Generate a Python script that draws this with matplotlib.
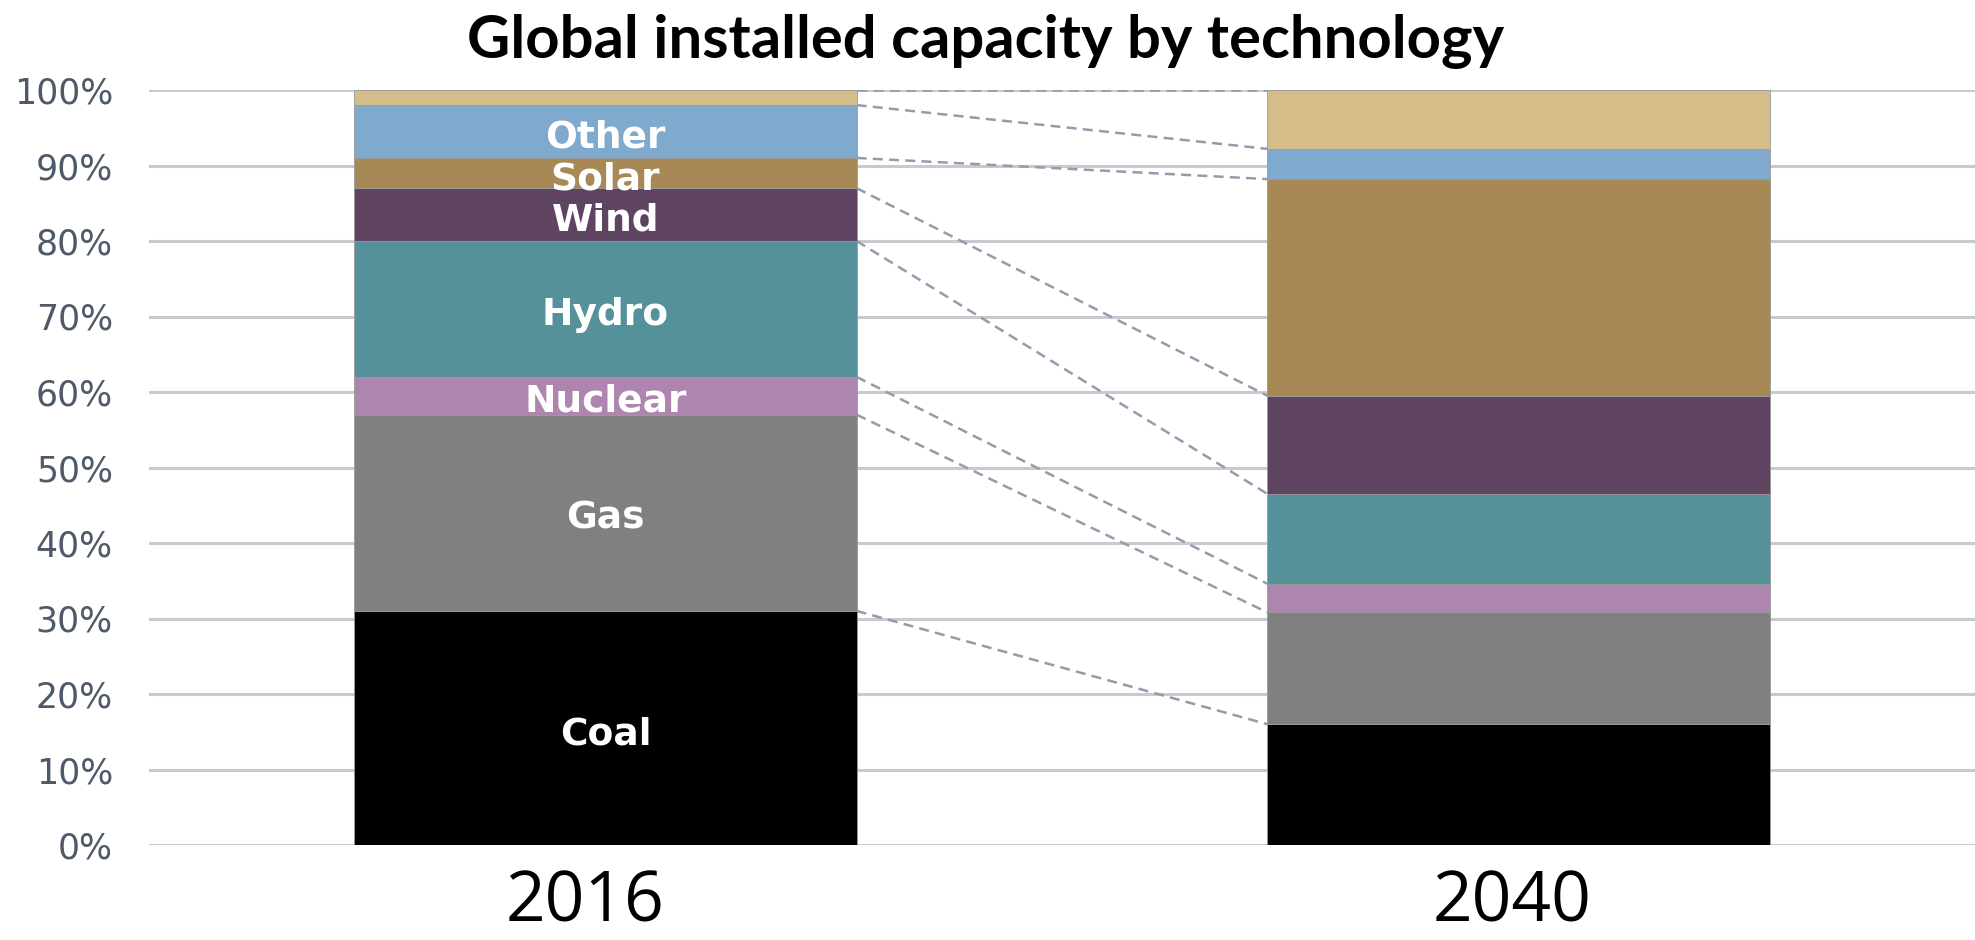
import numpy as np
import matplotlib.pyplot as plt
from matplotlib.ticker import PercentFormatter

# Datos (porcentaje de capacidad instalada)
years = ['2016', '2040']
techs = ['Coal', 'Gas', 'Nuclear', 'Hydro', 'Wind', 'Solar', 'Other', '']
share_2016 = [31.0, 26.0, 5.0, 18.0, 7.0, 4.0, 7.0, 2.0]
share_2040 = [16.0, 14.8, 3.8, 11.9, 13.0, 28.7, 4.0, 7.8]
colores = ['#000000', '#808080', '#ae85ae', '#55919b', '#5f4461',
           '#a88855', '#7fa9cd', '#d5bd89']

fig = plt.figure(figsize=(19.75, 9.4), dpi=100)
ax = fig.add_axes([149/1975, 95/940, 1 - 149/1975, 755/940])

x = np.arange(len(years))
ancho = 0.55
datos = np.array([share_2016, share_2040])

base = np.zeros(len(years))
for i, tech in enumerate(techs):
    ax.bar(x, datos[:, i], ancho, bottom=base, color=colores[i],
           edgecolor='#9a9a9a', linewidth=0.6, zorder=3)
    # etiqueta solo en la barra de 2016
    if tech:
        ax.text(x[0], base[0] + datos[0, i] / 2 - 0.8, tech, ha='center', va='center',
                color='white', fontsize=27, fontweight='bold',
                family='DejaVu Sans', zorder=5)
    base = base + datos[:, i]

# lineas punteadas entre los limites de cada segmento
lim_2016 = np.cumsum(share_2016)
lim_2040 = np.cumsum(share_2040)
for a, b in zip(lim_2016, lim_2040):
    ax.plot([x[0] + ancho/2, x[1] - ancho/2], [a, b], color='#939cad',
            linestyle=(0, (4, 2.5)), linewidth=1.8, zorder=2)

ax.set_xlim(-0.5, 1.5)
ax.set_ylim(0, 100)
ax.set_yticks(np.arange(0, 101, 10))
ax.yaxis.set_major_formatter(PercentFormatter(decimals=0))
ax.grid(axis='y', color='#c8cacd', linewidth=2.2, zorder=0)
ax.set_axisbelow(True)
for s in ax.spines.values():
    s.set_visible(False)

ax.tick_params(axis='y', length=0, pad=26, labelsize=25, labelcolor='#4e5a6a')
ax.set_xticks([])

# etiquetas de los anios (ligeramente desplazadas como en el original)
desplaz = [-20, -6]
for xi, anio, dx in zip(x, years, desplaz):
    ax.annotate(anio, xy=(xi, 0), xytext=(dx * 0.72, -76 * 0.72),
                textcoords='offset points', ha='center', va='baseline',
                fontsize=50, family='Open Sans', color='black')

fig.text(986/1975, 1 - 14/940, 'Global installed capacity by technology',
         ha='center', va='top', fontsize=43, fontweight='bold', family='Lato')

fig.savefig('out.png', dpi=100)
